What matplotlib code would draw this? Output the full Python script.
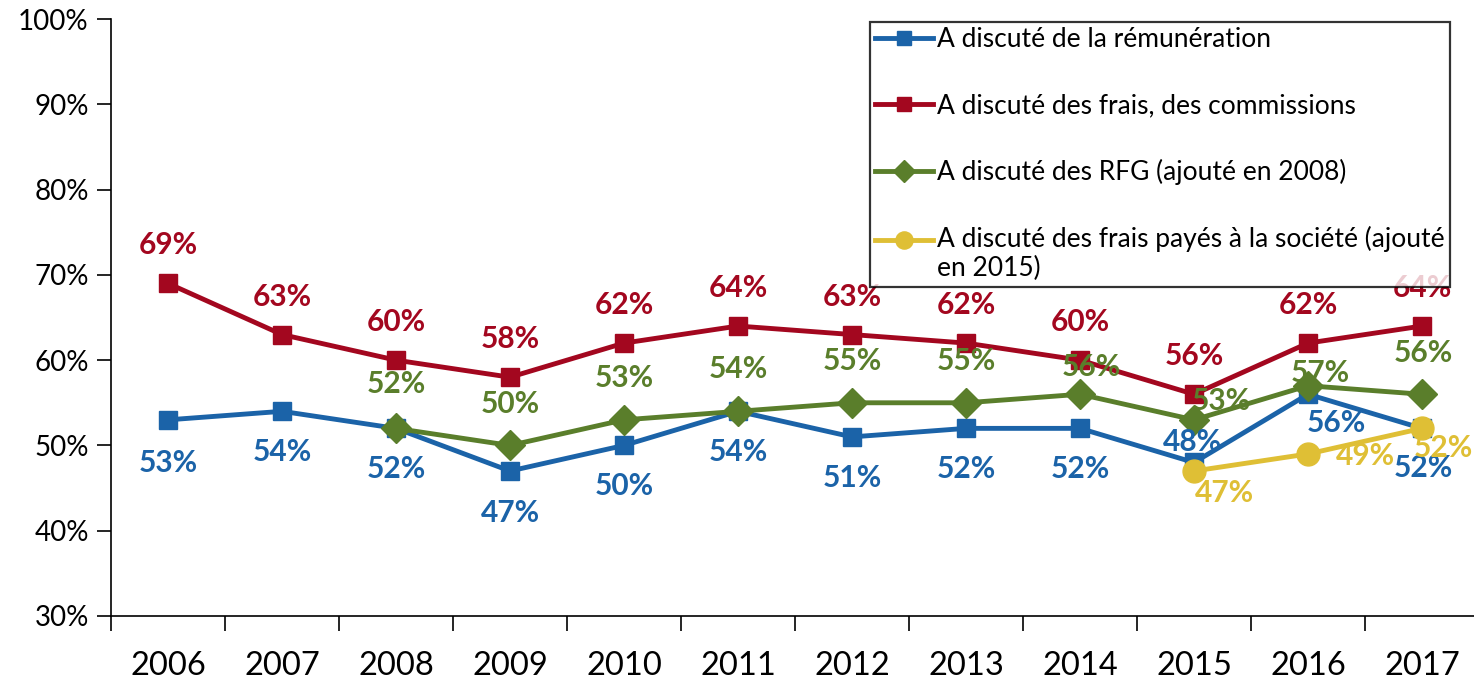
import matplotlib
matplotlib.use("Agg")
import matplotlib.pyplot as plt
from matplotlib.ticker import FixedLocator, PercentFormatter
from matplotlib.legend_handler import HandlerLine2D

years = ["2006", "2007", "2008", "2009", "2010", "2011", "2012", "2013", "2014", "2015", "2016", "2017"]
remuneration = [53, 54, 52, 47, 50, 54, 51, 52, 52, 48, 56, 52]
frais_commissions = [69, 63, 60, 58, 62, 64, 63, 62, 60, 56, 62, 64]
rfg = [52, 50, 53, 54, 55, 55, 56, 53, 57, 56]          # from 2008
frais_societe = [47, 49, 52]                             # from 2015

labels = ["A discuté de la rémunération",
          "A discuté des frais, des commissions",
          "A discuté des RFG (ajouté en 2008)",
          "A discuté des frais payés à la société (ajouté\nen 2015)"]

BLUE = "#1B63A8"
RED = "#A3071F"
GREEN = "#5A7E2B"
YELLOW = "#DFBF35"

plt.rcParams['font.family'] = ['Lato', 'DejaVu Sans']


class RaisedHandler(HandlerLine2D):
    """Line handle aligned with the first line of a two-line label."""
    def __init__(self, shift_pt, **kw):
        super().__init__(**kw)
        self.shift_pt = shift_pt

    def create_artists(self, legend, orig_handle, xdescent, ydescent,
                       width, height, fontsize, trans):
        return super().create_artists(legend, orig_handle, xdescent,
                                      ydescent - 2 * self.shift_pt,
                                      width, height, fontsize, trans)


fig = plt.figure(figsize=(14.74, 6.78), dpi=100)
ax = fig.add_axes([111/1474, 62/678, 1368/1474, 597/678])

x_all = list(range(len(years)))
x_rfg = x_all[2:]
x_soc = x_all[9:]

LW = 3.5
l1, = ax.plot(x_all, remuneration, color=BLUE, lw=LW, marker='s', ms=12.5, zorder=3)
l2, = ax.plot(x_all, frais_commissions, color=RED, lw=LW, marker='s', ms=12.5, zorder=3)
l3, = ax.plot(x_rfg, rfg, color=GREEN, lw=LW, marker='D', ms=15, zorder=4)
l4, = ax.plot(x_soc, frais_societe, color=YELLOW, lw=LW, marker='o', ms=16.5, zorder=5)

lab_kw = dict(textcoords='offset pixels', ha='center', va='center',
              fontsize=21.5, fontweight='bold', zorder=6)

# offsets in pixels (dx, dy) for labels
blue_off = [(0, -43), (0, -41), (0, -41), (0, -42), (0, -41), (0, -41),
            (0, -41), (0, -41), (0, -41), (-2, 20), (28, -29), (1, -40)]
red_off = [(0, 38)] * 12
green_off = [(0, 44), (0, 41), (0, 42), (0, 42), (0, 42), (0, 42),
             (11, 27), (27, 19), (12, 13), (1, 41)]
yel_off = [(30, -22), (57, -2), (21, -20)]

for xi, v, off in zip(x_all, remuneration, blue_off):
    ax.annotate(f"{v}%", (xi, v), xytext=off, color=BLUE, **lab_kw)
for xi, v, off in zip(x_all, frais_commissions, red_off):
    ax.annotate(f"{v}%", (xi, v), xytext=off, color=RED, **lab_kw)
for xi, v, off in zip(x_rfg, rfg, green_off):
    ax.annotate(f"{v}%", (xi, v), xytext=off, color=GREEN, **lab_kw)
for xi, v, off in zip(x_soc, frais_societe, yel_off):
    ax.annotate(f"{v}%", (xi, v), xytext=off, color=YELLOW, **lab_kw)

ax.set_xlim(-0.5, len(years) - 0.5)
ax.set_ylim(30, 100)
ax.set_yticks(range(30, 101, 10))
ax.yaxis.set_major_formatter(PercentFormatter(decimals=0))
ax.tick_params(axis='y', labelsize=20, length=10, width=1.2, pad=6)

ax.set_xticks(x_all)
ax.set_xticklabels(years)
ax.tick_params(axis='x', which='major', length=0, labelsize=23.5, pad=25)
ax.xaxis.set_minor_locator(FixedLocator([i - 0.5 for i in range(len(years) + 1)]))
ax.tick_params(axis='x', which='minor', length=11, width=1.2, direction='out')

for s in ['top', 'right']:
    ax.spines[s].set_visible(False)
for s in ['left', 'bottom']:
    ax.spines[s].set_linewidth(1.2)

leg = fig.legend([l1, l2, l3, l4], labels, loc='upper left',
                 bbox_to_anchor=(870/1474, 1 - 22/678), frameon=True,
                 fancybox=False, edgecolor='black', fontsize=19,
                 handlelength=2.2, handletextpad=0.15, labelspacing=1.55,
                 borderpad=0.2, borderaxespad=0, markerscale=0.75,
                 handler_map={l4: RaisedHandler(10.5)})
leg.get_frame().set_linewidth(1.6)
leg.set_zorder(10)

fig.savefig("out.png", dpi=100)
